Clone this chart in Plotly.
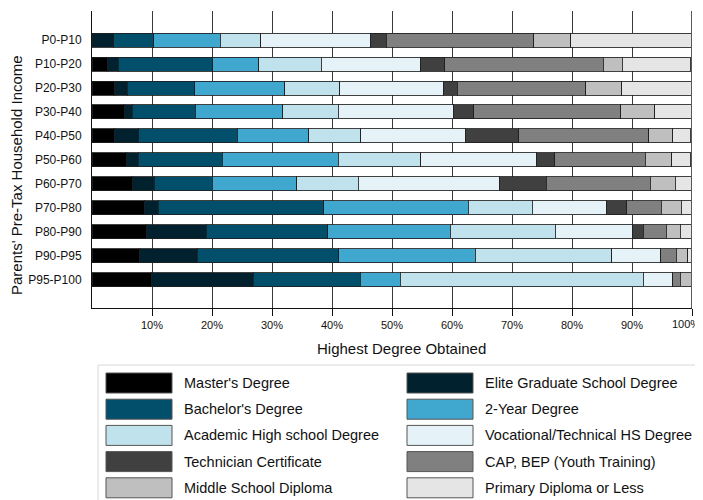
import plotly.graph_objects as go

rows = ["P0-P10", "P10-P20", "P20-P30", "P30-P40", "P40-P50", "P50-P60",
        "P60-P70", "P70-P80", "P80-P90", "P90-P95", "P95-P100"]

series_names = ["Master's Degree", "Elite Graduate School Degree", "Bachelor's Degree",
                "2-Year Degree", "Academic High school Degree", "Vocational/Technical HS Degree",
                "Technician Certificate", "CAP, BEP (Youth Training)", "Middle School Diploma",
                "Primary Diploma or Less"]

masters    = [0.0, 2.6, 3.8, 5.4, 3.7, 5.7, 6.7, 8.7, 9.1, 7.9, 9.9]
elite      = [3.6, 1.8, 2.1, 1.3, 4.1, 2.0, 3.7, 2.3, 9.9, 9.6, 17.0]
bachelor   = [6.7, 15.7, 11.2, 10.5, 16.4, 14.0, 9.6, 27.6, 20.3, 23.6, 17.8]
two_year   = [11.1, 7.7, 15.0, 14.6, 11.9, 19.3, 14.1, 24.1, 20.4, 22.8, 6.7]
academic   = [6.7, 10.4, 9.2, 9.2, 8.7, 13.8, 10.3, 10.7, 17.5, 22.7, 40.5]
vocational = [18.3, 16.5, 17.2, 19.2, 17.4, 19.2, 23.5, 12.3, 12.9, 8.2, 4.9]
technician = [2.6, 4.1, 2.4, 3.4, 8.9, 3.1, 7.8, 3.4, 1.8, 0.0, 0.0]
cap_bep    = [24.6, 26.4, 21.4, 24.5, 21.7, 15.1, 17.3, 5.8, 3.8, 2.6, 1.2]
middle     = [6.2, 3.2, 6.0, 5.7, 4.0, 4.4, 4.2, 3.3, 2.3, 1.9, 2.0]
primary    = [20.1, 11.4, 11.7, 6.2, 2.9, 3.2, 2.8, 1.7, 2.0, 0.6, 0.0]

tick_vals = [10, 20, 30, 40, 50, 60, 70, 80, 90, 100]
tick_text = ["10%", "20%", "30%", "40%", "50%", "60%", "70%", "80%", "90%", "100%"]

colors = ["#000000", "#01212e", "#024f6c", "#40a8cf", "#c0e2ed",
          "#e5f3f9", "#404040", "#808080", "#bfbfbf", "#e5e5e5"]

all_values = [masters, elite, bachelor, two_year, academic, vocational,
              technician, cap_bep, middle, primary]

fig = go.Figure()
for name, vals, col in zip(series_names, all_values, colors):
    fig.add_trace(go.Bar(
        y=list(range(len(rows))), x=vals, name=name, orientation="h",
        marker=dict(color=col, line=dict(color="rgba(30,30,30,0.85)", width=1)),
        width=0.585, showlegend=False,
    ))

# page offset from default body margin; figure sized to fit the 703x500 window
OX, OY = 8, 8
W, H = 703 - OX, 500 - OY
PL, PR, PT, PB = 92, 692, 11, 308   # plot area in page pixels
L, T = PL - OX, PT - OY
R, B = W - (PR - OX), H - (PB - OY)
pw, ph = PR - PL, PB - PT

def px(x):
    return (x - PL) / pw

def py(y):
    return (PB - y) / ph

FONT = "Liberation Sans, Arial, sans-serif"
shapes = []
annotations = []
# right edge line (100% grid)
shapes.append(dict(type="line", xref="x", yref="paper", x0=100, x1=100, y0=0, y1=1,
                   line=dict(color="#5a5a5a", width=2), layer="above"))
# legend box
shapes.append(dict(type="rect", xref="paper", yref="paper",
                   x0=px(98), x1=px(715), y0=py(515), y1=py(365),
                   line=dict(color="#d8d8d8", width=1), fillcolor="white", layer="above"))
col_sw = [106, 407]
col_tx = [182, 483]
for i, (name, col) in enumerate(zip(series_names, colors)):
    r, c = divmod(i, 2)
    cy = 383 + 26.2 * r
    shapes.append(dict(type="rect", xref="paper", yref="paper",
                       x0=px(col_sw[c]), x1=px(col_sw[c] + 66),
                       y0=py(cy + 10), y1=py(cy - 10),
                       fillcolor=col, line=dict(color="#555555", width=1), layer="above"))
    annotations.append(dict(xref="paper", yref="paper", x=px(col_tx[c]), y=py(cy),
                            text=name, showarrow=False, xanchor="left", yanchor="middle",
                            font=dict(size=14.5, color="#111111", family=FONT)))

# last tick label drawn as annotation so it is not clipped at the edge
annotations.append(dict(xref="paper", yref="paper", x=px(703), y=py(323.5),
                        text=tick_text[-1], showarrow=False, xanchor="right", yanchor="middle",
                        xshift=-1, font=dict(size=11, color="#111111", family=FONT)))

# y-axis title
annotations.append(dict(xref="paper", yref="paper", x=px(17), y=py(175),
                        text="Parents' Pre-Tax Household Income", textangle=-90,
                        showarrow=False, xanchor="center", yanchor="middle",
                        font=dict(size=15, color="#111111", family=FONT)))
# x-axis title
annotations.append(dict(xref="paper", yref="paper", x=px(401), y=py(348),
                        text="Highest Degree Obtained",
                        showarrow=False, xanchor="center", yanchor="middle",
                        font=dict(size=15, color="#111111", family=FONT)))

fig.update_layout(
    barmode="stack",
    width=W, height=H,
    margin=dict(l=L, r=R, t=T, b=B, pad=0, autoexpand=False),
    paper_bgcolor="white", plot_bgcolor="white",
    font=dict(family=FONT, color="#111111"),
    shapes=shapes, annotations=annotations,
    xaxis=dict(range=[0, 100], tickvals=tick_vals, ticktext=tick_text[:-1] + [""],
               showgrid=True, gridcolor="#3a3a3a", gridwidth=1,
               ticks="outside", ticklen=7, tickcolor="#111111",
               showline=True, linecolor="#111111", linewidth=1,
               zeroline=False, tickfont=dict(size=11), automargin=False),
    yaxis=dict(range=[11.19, -1.22], tickvals=list(range(len(rows))), ticktext=rows,
               showgrid=False, showline=True, linecolor="#111111", linewidth=1,
               ticks="", zeroline=False, tickfont=dict(size=12),
               ticklabelstandoff=7, automargin=False),
)

fig.write_html("out.html")
